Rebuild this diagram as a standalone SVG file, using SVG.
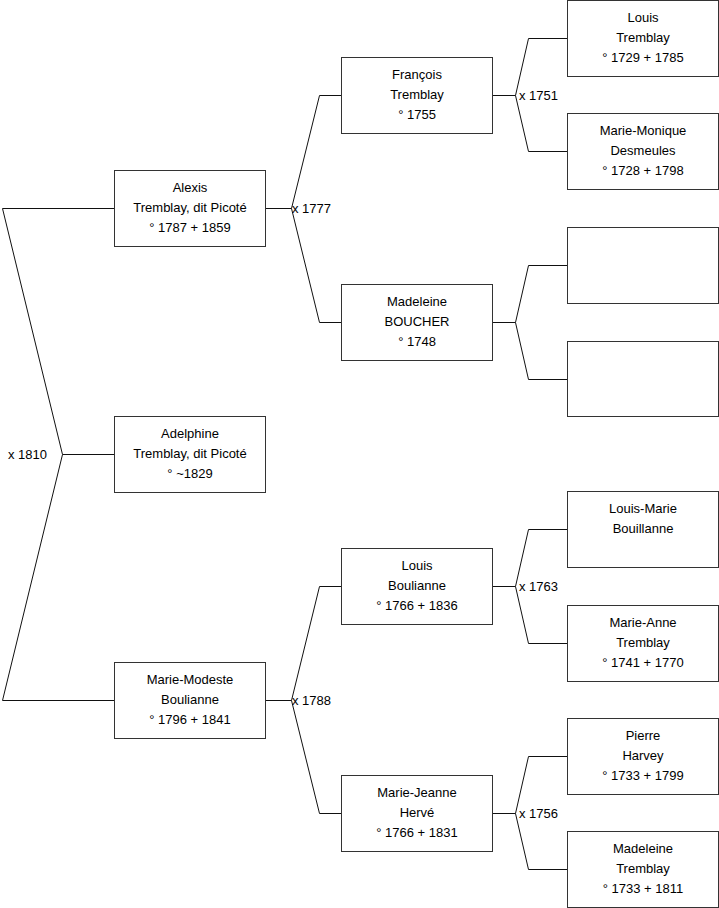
<svg xmlns="http://www.w3.org/2000/svg" width="719" height="908" viewBox="0 0 719 908">
<style>
.box{fill:#fff;stroke:#333;stroke-width:1}
.t{font-family:"Liberation Sans",Arial,sans-serif;font-size:13px;fill:#000}
.c{text-anchor:middle}
.ln{fill:none;stroke:#111;stroke-width:1}
</style>
<rect width="719" height="908" fill="#fff"/>
<g id="connectors">
<path class="ln" d="M114.5,208.5 H2.5 L62.5,454.5 L2.5,700.5 H114.5 M62.5,454.5 H114.5"/>
<path class="ln" d="M265.5,208.5 H291.5 M341.5,95.5 H319.5 L291.5,208.5 L319.5,322.5 H341.5"/>
<path class="ln" d="M265.5,700.5 H291.5 M341.5,586.5 H319.5 L291.5,700.5 L319.5,813.5 H341.5"/>
<path class="ln" d="M492.5,95.5 H515.5 M567.5,38.5 H528.5 L515.5,95.5 L528.5,151.5 H567.5"/>
<path class="ln" d="M492.5,322.5 H515.5 M567.5,265.5 H528.5 L515.5,322.5 L528.5,379.5 H567.5"/>
<path class="ln" d="M492.5,586.5 H515.5 M567.5,529.5 H528.5 L515.5,586.5 L528.5,643.5 H567.5"/>
<path class="ln" d="M492.5,813.5 H515.5 M567.5,756.5 H528.5 L515.5,813.5 L528.5,869.5 H567.5"/>
<text class="t" x="8" y="459">x 1810</text>
<text class="t" x="292" y="213">x 1777</text>
<text class="t" x="292" y="705">x 1788</text>
<text class="t" x="519" y="100">x 1751</text>
<text class="t" x="519" y="591">x 1763</text>
<text class="t" x="519" y="818">x 1756</text>
</g>
<g id="alexis"><rect class="box" x="114.5" y="170.5" width="151" height="76"/>
<text class="t c" x="190" y="192">Alexis</text><text class="t c" x="190" y="212">Tremblay, dit Picoté</text><text class="t c" x="190" y="232">° 1787 + 1859</text></g>
<g id="adelphine"><rect class="box" x="114.5" y="416.5" width="151" height="76"/>
<text class="t c" x="190" y="438">Adelphine</text><text class="t c" x="190" y="458">Tremblay, dit Picoté</text><text class="t c" x="190" y="478">° ~1829</text></g>
<g id="mariemodeste"><rect class="box" x="114.5" y="662.5" width="151" height="76"/>
<text class="t c" x="190" y="684">Marie-Modeste</text><text class="t c" x="190" y="704">Boulianne</text><text class="t c" x="190" y="724">° 1796 + 1841</text></g>
<g id="francois"><rect class="box" x="341.5" y="57.5" width="151" height="76"/>
<text class="t c" x="417" y="79">François</text><text class="t c" x="417" y="99">Tremblay</text><text class="t c" x="417" y="119">° 1755</text></g>
<g id="madeleineboucher"><rect class="box" x="341.5" y="284.5" width="151" height="76"/>
<text class="t c" x="417" y="306">Madeleine</text><text class="t c" x="417" y="326">BOUCHER</text><text class="t c" x="417" y="346">° 1748</text></g>
<g id="louisboulianne"><rect class="box" x="341.5" y="548.5" width="151" height="76"/>
<text class="t c" x="417" y="570">Louis</text><text class="t c" x="417" y="590">Boulianne</text><text class="t c" x="417" y="610">° 1766 + 1836</text></g>
<g id="mariejeanne"><rect class="box" x="341.5" y="775.5" width="151" height="76"/>
<text class="t c" x="417" y="797">Marie-Jeanne</text><text class="t c" x="417" y="817">Hervé</text><text class="t c" x="417" y="837">° 1766 + 1831</text></g>
<g id="louistremblay"><rect class="box" x="567.5" y="0.5" width="151" height="76"/>
<text class="t c" x="643" y="22">Louis</text><text class="t c" x="643" y="42">Tremblay</text><text class="t c" x="643" y="62">° 1729 + 1785</text></g>
<g id="mariemonique"><rect class="box" x="567.5" y="113.5" width="151" height="76"/>
<text class="t c" x="643" y="135">Marie-Monique</text><text class="t c" x="643" y="155">Desmeules</text><text class="t c" x="643" y="175">° 1728 + 1798</text></g>
<g id="unknown1"><rect class="box" x="567.5" y="227.5" width="151" height="76"/></g>
<g id="unknown2"><rect class="box" x="567.5" y="341.5" width="151" height="75"/></g>
<g id="louismarie"><rect class="box" x="567.5" y="491.5" width="151" height="76"/>
<text class="t c" x="643" y="513">Louis-Marie</text><text class="t c" x="643" y="533">Bouillanne</text></g>
<g id="marieanne"><rect class="box" x="567.5" y="605.5" width="151" height="76"/>
<text class="t c" x="643" y="627">Marie-Anne</text><text class="t c" x="643" y="647">Tremblay</text><text class="t c" x="643" y="667">° 1741 + 1770</text></g>
<g id="pierre"><rect class="box" x="567.5" y="718.5" width="151" height="76"/>
<text class="t c" x="643" y="740">Pierre</text><text class="t c" x="643" y="760">Harvey</text><text class="t c" x="643" y="780">° 1733 + 1799</text></g>
<g id="madeleinetremblay"><rect class="box" x="567.5" y="831.5" width="151" height="76"/>
<text class="t c" x="643" y="853">Madeleine</text><text class="t c" x="643" y="873">Tremblay</text><text class="t c" x="643" y="893">° 1733 + 1811</text></g>
</svg>
